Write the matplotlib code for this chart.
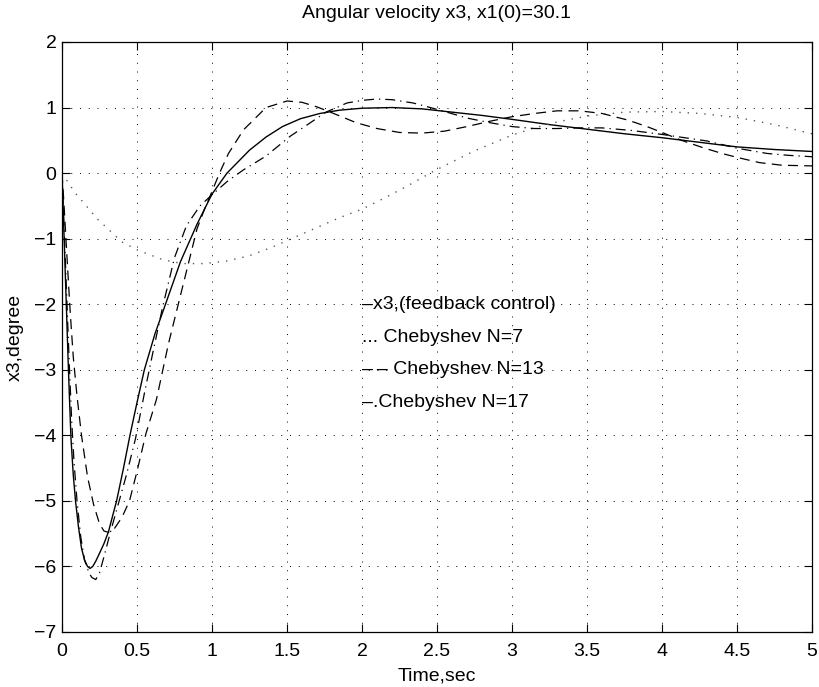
import matplotlib
matplotlib.use('Agg')
import matplotlib.pyplot as plt

plt.rcParams['font.family'] = ['Liberation Sans', 'DejaVu Sans']

# x3 with feedback control (solid)
t_fb = [0, 0.01, 0.02, 0.03, 0.04, 0.05, 0.06, 0.075, 0.09, 0.11, 0.13, 0.15,
        0.17, 0.187, 0.205, 0.225, 0.25, 0.28, 0.31, 0.335, 0.364, 0.41, 0.453,
        0.5, 0.549, 0.62, 0.69, 0.79, 0.9, 1.0, 1.1, 1.25, 1.36, 1.47, 1.59,
        1.72, 1.85, 2.0, 2.2, 2.4, 2.6, 2.8, 3.0, 3.25, 3.5, 3.75, 4.0, 4.25,
        4.5, 4.75, 5.0]
x3_fb = [0, -0.7, -1.4, -2.1, -2.8, -3.45, -4.05, -4.6, -5.0, -5.4, -5.72, -5.9,
         -6.0, -6.03, -6.0, -5.92, -5.8, -5.65, -5.47, -5.25, -5.0, -4.5, -4.0,
         -3.5, -3.0, -2.45, -2.0, -1.35, -0.78, -0.32, 0.0, 0.35, 0.55, 0.71, 0.83,
         0.91, 0.96, 0.99, 1.0, 0.98, 0.93, 0.88, 0.82, 0.74, 0.67, 0.6, 0.54, 0.47,
         0.40, 0.36, 0.33]

# Chebyshev N=7 (dotted)
t_n7 = [0, 0.087, 0.24, 0.4, 0.5, 0.67, 0.8, 0.95, 1.1, 1.25, 1.4, 1.55, 1.7,
        1.85, 2.0, 2.15, 2.3, 2.47, 2.6, 2.75, 3.0, 3.15, 3.3, 3.5, 3.75, 4.0,
        4.25, 4.5, 4.75, 5.0]
x3_n7 = [0, -0.3, -0.71, -1.05, -1.17, -1.32, -1.38, -1.38, -1.34, -1.26, -1.13,
         -0.98, -0.83, -0.68, -0.55, -0.38, -0.2, 0.02, 0.17, 0.34, 0.58, 0.69,
         0.78, 0.87, 0.93, 0.94, 0.91, 0.85, 0.74, 0.6]

# Chebyshev N=13 (dashed)
t_n13 = [0, 0.01, 0.025, 0.04, 0.055, 0.075, 0.1, 0.13, 0.17, 0.21, 0.25, 0.28,
         0.31, 0.35, 0.4, 0.45, 0.5, 0.56, 0.63, 0.71, 0.81, 0.9, 0.95, 1.0,
         1.05, 1.11, 1.21, 1.36, 1.5, 1.6, 1.7, 1.8, 1.96, 2.1, 2.25, 2.4, 2.55,
         2.7, 2.85, 3.0, 3.15, 3.3, 3.45, 3.6, 3.77, 3.9, 4.0, 4.13, 4.27, 4.4,
         4.5, 4.65, 4.8, 5.0]
x3_n13 = [0, -0.35, -0.95, -1.55, -2.13, -2.8, -3.4, -4.0, -4.63, -5.05, -5.35,
          -5.46, -5.48, -5.42, -5.25, -5.0, -4.55, -3.97, -3.45, -2.6, -1.68,
          -0.85, -0.55, -0.28, 0.0, 0.3, 0.66, 1.0, 1.1, 1.08, 1.01, 0.92, 0.77,
          0.68, 0.62, 0.61, 0.64, 0.71, 0.79, 0.86, 0.91, 0.95, 0.95, 0.91, 0.81,
          0.71, 0.62, 0.5, 0.39, 0.3, 0.24, 0.16, 0.12, 0.11]

# Chebyshev N=17 (dash-dot)
t_n17 = [0, 0.01, 0.02, 0.035, 0.05, 0.065, 0.08, 0.1, 0.125, 0.15, 0.18, 0.2,
         0.225, 0.25, 0.28, 0.32, 0.375, 0.43, 0.49, 0.55, 0.6, 0.67, 0.75, 0.83,
         0.92, 1.0, 1.1, 1.21, 1.36, 1.52, 1.65, 1.76, 1.9, 2.0, 2.1, 2.2, 2.34,
         2.44, 2.55, 2.7, 2.85, 3.0, 3.15, 3.3, 3.45, 3.6, 3.8, 4.0, 4.15, 4.3,
         4.5, 4.7, 4.85, 5.0]
x3_n17 = [0, -0.6, -1.2, -2.1, -3.0, -3.8, -4.4, -5.0, -5.55, -5.9, -6.1, -6.17,
          -6.2, -6.1, -5.85, -5.5, -5.05, -4.6, -4.05, -3.35, -2.8, -2.05, -1.29,
          -0.8, -0.5, -0.33, -0.13, 0.05, 0.26, 0.56, 0.76, 0.93, 1.07, 1.11, 1.13,
          1.12, 1.07, 1.01, 0.94, 0.84, 0.77, 0.71, 0.68, 0.68, 0.69, 0.69, 0.65,
          0.59, 0.54, 0.49, 0.38, 0.3, 0.27, 0.25]

legend_lines = ['\u2013x3,(feedback control)', '... Chebyshev N=7',
                '\u2013\u2009\u2013 Chebyshev N=13', '\u2013.Chebyshev N=17']
legend_y = [-2, -2.5, -3, -3.5]

fs = 14

fig = plt.figure(figsize=(8.2, 6.87), dpi=100)
ax = fig.add_axes([62 / 820, 55 / 687, 750 / 820, 590 / 687])

ax.plot(t_fb, x3_fb, color='black', lw=1.0, ls='-')
ax.plot(t_n7, x3_n7, color='0.35', lw=1.0, ls=(0, (1, 5)))
ax.plot(t_n13, x3_n13, color='black', lw=0.9, ls=(0, (8, 5)))
ax.plot(t_n17, x3_n17, color='black', lw=0.9, ls=(0, (8, 4, 1, 4)))

for s, yy in zip(legend_lines, legend_y):
    ax.text(2.0, yy, s, fontsize=fs, ha='left', va='center')

ax.set_xlim(0, 5)
ax.set_ylim(-7, 2)
ax.set_xticks([0, 0.5, 1, 1.5, 2, 2.5, 3, 3.5, 4, 4.5, 5])
ax.set_xticklabels(['0', '0.5', '1', '1.5', '2', '2.5', '3', '3.5', '4', '4.5', '5'])
ax.set_yticks(range(-7, 3))
ax.grid(True, color='black', lw=0.7, ls=(0, (1, 8)))
ax.tick_params(direction='in', length=6, width=0.8, top=True, right=True,
               labelsize=fs)
ax.tick_params(axis='x', pad=8)
ax.tick_params(axis='y', pad=4)
for sp in ax.spines.values():
    sp.set_linewidth(0.9)

ax.set_title('Angular velocity x3, x1(0)=30.1', fontsize=fs, y=1.049,
             pad=0, va='center')
ax.set_xlabel('Time,sec', fontsize=fs, va='center')
ax.xaxis.set_label_coords(0.5, -0.0746)
ax.set_ylabel('x3,degree', fontsize=fs, va='center')
ax.yaxis.set_label_coords(-0.0627, 0.5)

fig.savefig('out.png', dpi=100)
